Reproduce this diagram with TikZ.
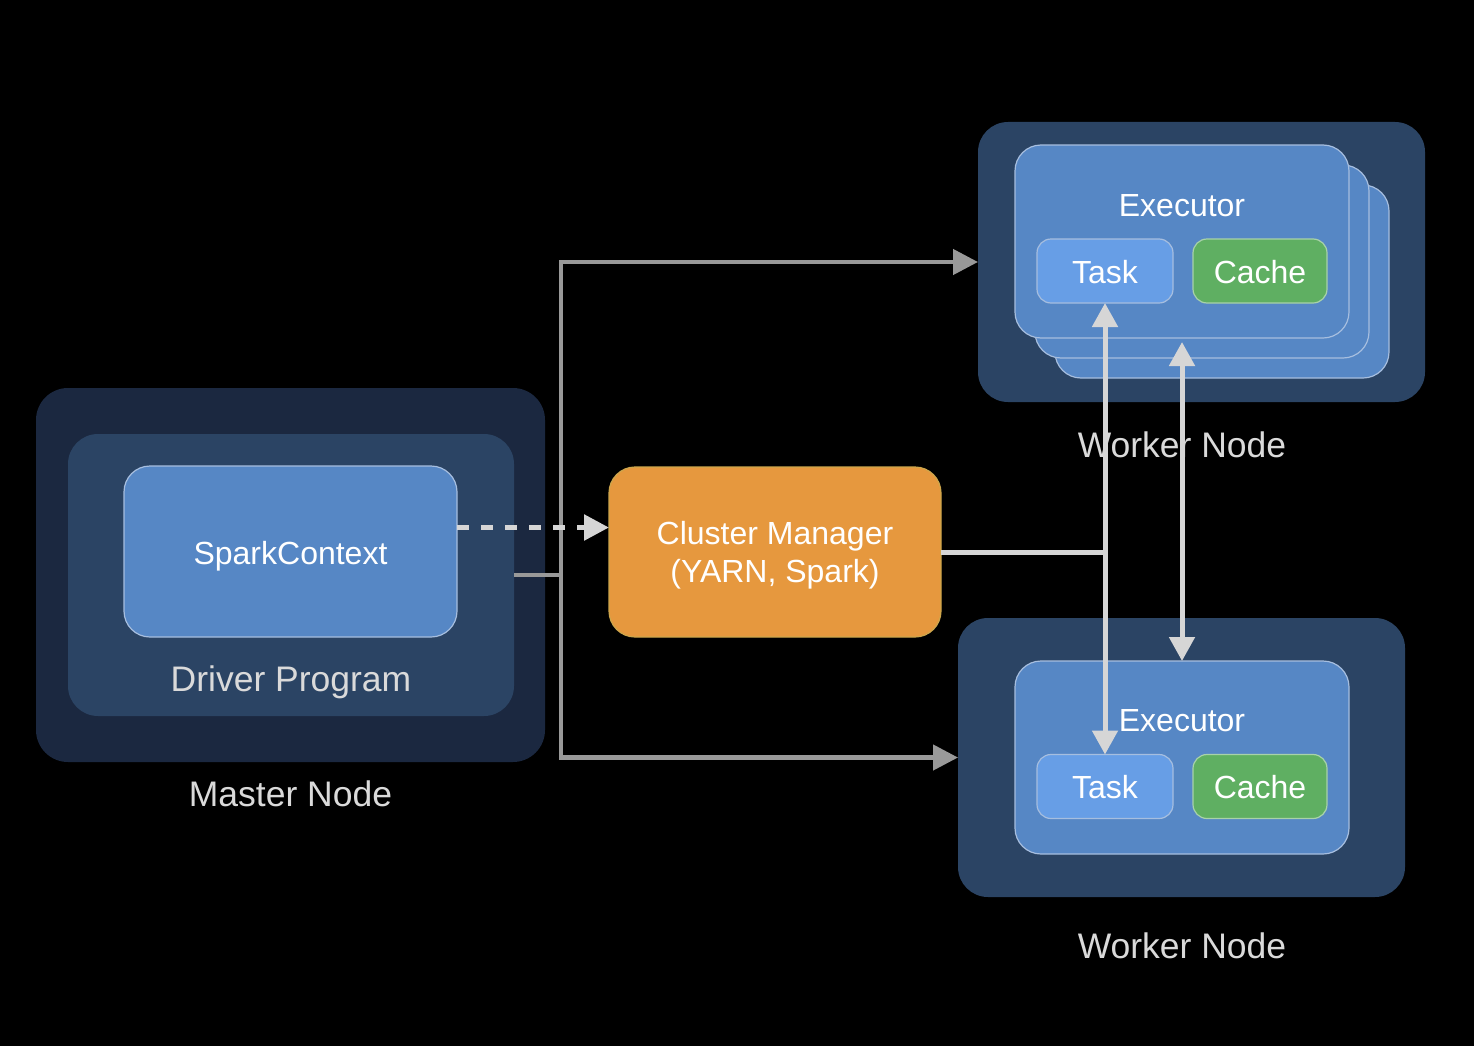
\documentclass[tikz,border=0pt]{standalone}
\usepackage{fontspec}
\setmainfont{Liberation Sans}
\usetikzlibrary{arrows.meta,calc}
\definecolor{masterc}{HTML}{1B2840}
\definecolor{nodec}{HTML}{2B4464}
\definecolor{execc}{HTML}{5687C5}
\definecolor{execb}{HTML}{A6BEDF}
\definecolor{taskc}{HTML}{679EE6}
\definecolor{cachec}{HTML}{5FAF62}
\definecolor{cacheb}{HTML}{A8D2A9}
\definecolor{orangec}{HTML}{E6983E}
\definecolor{orangeb}{HTML}{CDA64C}
\definecolor{labelc}{HTML}{DADADA}
\definecolor{darkconn}{HTML}{999999}
\definecolor{lightconn}{HTML}{D6D6D6}
\begin{document}
\begin{tikzpicture}[x=1pt,y=-1pt,
  shp/.style={inner sep=0pt, outer sep=0pt},
  masterbox/.style={shp, fill=masterc, rounded corners=32pt},
  panelbox/.style={shp, fill=nodec, rounded corners=30pt},
  execbox/.style={shp, fill=execc, draw=execb, line width=1.2pt, rounded corners=26pt, minimum width=334pt, minimum height=193pt},
  taskbox/.style={shp, fill=taskc, draw=execb, line width=1.2pt, rounded corners=14pt, minimum width=136pt, minimum height=64pt},
  cachebox/.style={shp, fill=cachec, draw=cacheb, line width=1.2pt, rounded corners=14pt, minimum width=134pt, minimum height=64pt},
  cmbox/.style={shp, fill=orangec, draw=orangeb, line width=1.2pt, rounded corners=26pt},
  wtext/.style={inner sep=0pt, anchor=base, text=white, font=\fontsize{32}{38}\selectfont},
  lbl/.style={inner sep=0pt, anchor=base, text=labelc, font=\fontsize{35.5}{42}\selectfont},
  darkline/.style={draw=darkconn, line width=4.5pt},
  lightline/.style={draw=lightconn, line width=5pt},
  tipend/.style={-{Triangle[length=25pt,width=25pt]}},
  tipboth/.style={{Triangle[length=24pt,width=25pt]}-{Triangle[length=24pt,width=25pt]}},
  dashpat/.style={dash pattern=on 12pt off 12pt, line width=5.5pt}
]
\useasboundingbox (0,0) rectangle (1474,1046);
\fill[black] (0,0) rectangle (1474,1046);

% Master node
\node[masterbox, minimum width=509pt, minimum height=374pt] (master) at (290.5,575) {};
\node[panelbox, minimum width=446pt, minimum height=282pt] (driver) at (291,575) {};
\node[shp, fill=execc, draw=execb, line width=1.2pt, rounded corners=26pt, minimum width=333pt, minimum height=171pt] (sc) at (290.5,551.5) {};
\node[wtext] (sctext) at (290.5,564) {SparkContext};
\node[lbl] (drvlabel) at (291,691) {Driver Program};
\node[lbl] (masterlabel) at (290.5,806) {Master Node};

% Cluster manager
\node[cmbox, minimum width=332pt, minimum height=170pt] (cm) at (775,552) {};
\node[wtext] (cmtext1) at (775,544) {Cluster Manager};
\node[wtext] (cmtext2) at (775,582) {(YARN, Spark)};

% Worker node 1
\node[panelbox, minimum width=447pt, minimum height=280pt] (w1) at (1201.5,262) {};
\node[execbox] (exA3) at (1222,281.5) {};
\node[execbox] (exA2) at (1202,261.5) {};
\node[execbox] (exA) at (1182,241.5) {};
\node[wtext] (exAlabel) at (1182,216) {Executor};
\node[taskbox] (taskA) at (1105,271) {};
\node[wtext] at (taskA |- 0,283) {Task};
\node[cachebox] (cacheA) at (1260,271) {};
\node[wtext] at (cacheA |- 0,283) {Cache};
\node[lbl] (w1label) at (1182,457) {Worker Node};

% Worker node 2
\node[panelbox, minimum width=447pt, minimum height=279pt] (w2) at (1181.5,757.5) {};
\node[execbox] (exB) at (1182,757.5) {};
\node[wtext] (exBlabel) at (1182,731) {Executor};
\node[taskbox] (taskB) at (1105,786.5) {};
\node[wtext] at (taskB |- 0,798) {Task};
\node[cachebox] (cacheB) at (1260,786.5) {};
\node[wtext] at (cacheB |- 0,798) {Cache};
\node[lbl] (w2label) at (1182,958) {Worker Node};

% Connectors
\coordinate (junc) at ($(driver.east)+(47,0)$);
\draw[darkline] (driver.east) -- (junc);
\draw[darkline, tipend] (junc) |- (w1.west);
\draw[darkline, tipend] (junc) |- (w2.west);
\draw[lightline, dashpat, tipend] ([yshift=24pt]sc.east) -- ([yshift=24pt]sc.east -| cm.west);
\draw[lightline] (cm.east) -- (cm.east -| taskA.south);
\draw[lightline, tipboth] (taskA.south) -- (taskB.north);
\draw[lightline, tipboth] ([yshift=-4pt]exA.south) -- (exB.north);
\end{tikzpicture}
\end{document}
